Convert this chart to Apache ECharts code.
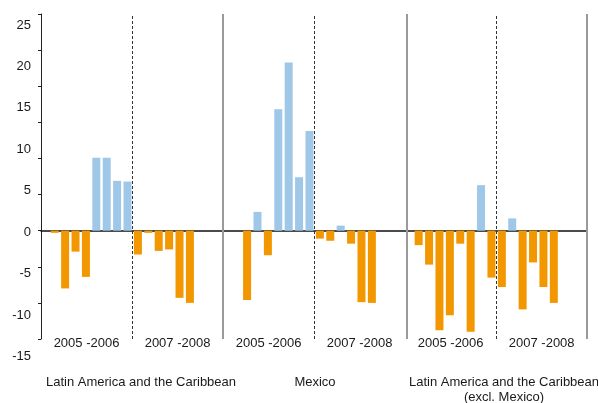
<!DOCTYPE html>
<html>
<head>
<meta charset="utf-8">
<script src="https://cdn.jsdelivr.net/npm/echarts@6/dist/echarts.min.js"></script>
<style>
html,body{margin:0;padding:0;background:#fff;}
#chart{width:598px;height:403px;}
</style>
</head>
<body>
<div id="chart"></div>
<script>
// ---- data ----
var panels = ['Latin America and the Caribbean', 'Mexico', 'Latin America and the Caribbean\n(excl. Mexico)'];
var periods = ['2005 -2006', '2007 -2008'];
var yTickLabels = [-15, -10, -5, 0, 5, 10, 15, 20, 25];
// 8 bars for 2005-2006, 6 bars for 2007-2008 in each panel
var lacValues = [-0.3, -8.0, -2.9, -6.4, 10.1, 10.1, 6.9, 6.8, -3.3, -0.3, -2.8, -2.6, -9.3, -10.0];
var mexValues = [null, -9.6, 2.6, -3.4, 16.8, 23.3, 7.4, 13.8, -1.1, -1.4, 0.7, -1.8, -9.9, -10.0];
var lacExMexValues = [-2.0, -4.7, -13.8, -11.7, -1.8, -14.0, 6.3, -6.5, -7.8, 1.7, -10.9, -4.4, -7.8, -10.0];
var panelSeries = [lacValues, mexValues, lacExMexValues];

// ---- layout ----
var PANEL_SLOTS = 17.5;
var FIRST_HALF = 8;
var X_MIN = -1.32, X_MAX = 51.21;
var PANEL_BOUNDS = [16.18, 33.85, 51.21];
var BLUE = '#9fc7e7', ORANGE = '#f39700';
var FONT = 'Liberation Sans, Arial, sans-serif';

var barData = [];
panelSeries.forEach(function (vals, p) {
  vals.forEach(function (v, i) {
    if (v === null) return;
    barData.push({
      value: [p * PANEL_SLOTS + i, v],
      itemStyle: { color: v >= 0 ? BLUE : ORANGE }
    });
  });
});

var markData = [];
PANEL_BOUNDS.forEach(function (b) {
  markData.push({ xAxis: b, lineStyle: { color: '#9a9a9a', width: 2, type: 'solid' } });
});
for (var p = 0; p < panels.length; p++) {
  markData.push({ xAxis: p * PANEL_SLOTS + FIRST_HALF - 0.5, lineStyle: { color: '#333', width: 1, type: [3, 2] } });
}

var periodCats = [];
panels.forEach(function () { periods.forEach(function (t) { periodCats.push(t); }); });

var chart = echarts.init(document.getElementById('chart'), null, { renderer: 'canvas' });
chart.setOption({
  animation: false,
  backgroundColor: '#fff',
  textStyle: { fontFamily: FONT },
  grid: [
    { left: 41, right: 10.79, top: 14, bottom: 64 },
    { left: 41, right: 10.79, top: 25, bottom: 46.5 }
  ],
  xAxis: [
    {
      type: 'value', gridIndex: 0, min: X_MIN, max: X_MAX,
      axisLine: { show: true, onZero: true, lineStyle: { color: '#111', width: 1.5 } },
      axisTick: { show: false }, axisLabel: { show: false }, splitLine: { show: false }
    },
    {
      type: 'category', gridIndex: 0, position: 'bottom', data: periodCats,
      axisLine: { show: false }, axisTick: { show: false }, splitLine: { show: false },
      axisLabel: { interval: 0, margin: -2, color: '#1a1a1a', fontSize: 13, fontFamily: FONT }
    },
    {
      type: 'value', gridIndex: 1, show: false, min: 0, max: 1
    }
  ],
  yAxis: [
    {
      type: 'value', gridIndex: 0, min: -15, max: 30, interval: 5,
      axisLine: { show: true, onZero: false, lineStyle: { color: '#222', width: 1 } },
      axisTick: { show: true, inside: false, length: 3, lineStyle: { color: '#222' } },
      axisLabel: { show: false }, splitLine: { show: false }
    },
    {
      type: 'value', gridIndex: 1, min: yTickLabels[0], max: yTickLabels[yTickLabels.length - 1], interval: 5,
      axisLine: { show: false, onZero: false }, axisTick: { show: false }, splitLine: { show: false },
      axisLabel: { margin: 10, color: '#1a1a1a', fontSize: 13, fontFamily: FONT }
    }
  ],
  series: [
    {
      type: 'bar', xAxisIndex: 0, yAxisIndex: 0, barWidth: 8,
      data: barData,
      markLine: {
        silent: true, symbol: 'none', label: { show: false },
        data: markData
      }
    }
  ],
  graphic: [
    { type: 'text', left: null, x: 141, y: 375, silent: true,
      style: { text: panels[0], fill: '#1a1a1a', font: '13px ' + FONT, align: 'center', verticalAlign: 'top', lineHeight: 15 } },
    { type: 'text', x: 315, y: 375, silent: true,
      style: { text: panels[1], fill: '#1a1a1a', font: '13px ' + FONT, align: 'center', verticalAlign: 'top', lineHeight: 15 } },
    { type: 'text', x: 504, y: 375, silent: true,
      style: { text: panels[2], fill: '#1a1a1a', font: '13px ' + FONT, align: 'center', verticalAlign: 'top', lineHeight: 15 } }
  ]
});
</script>
</body>
</html>
